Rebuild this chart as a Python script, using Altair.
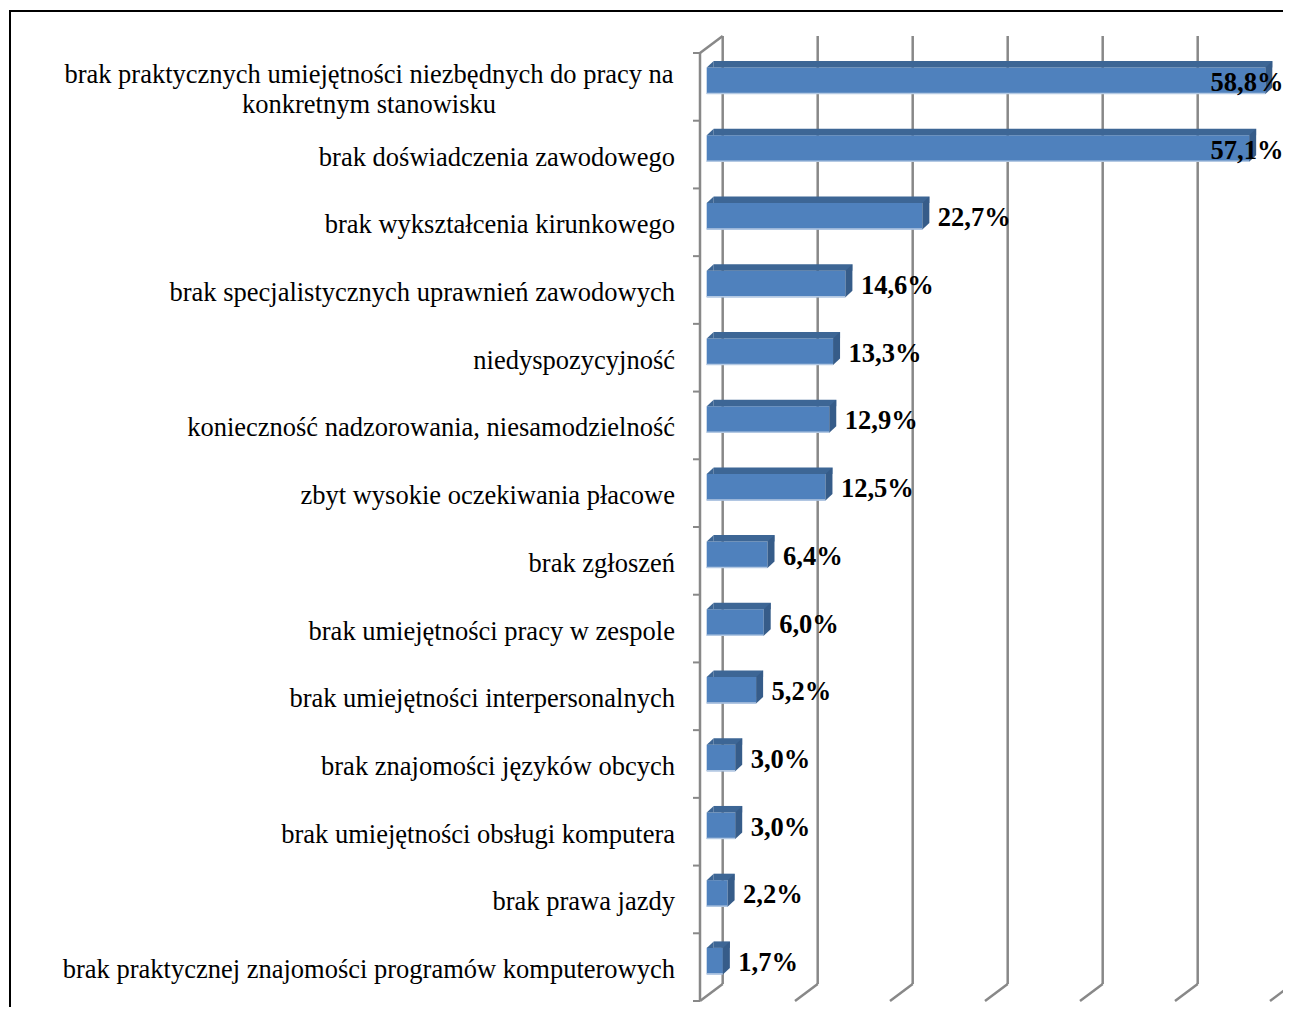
import altair as alt
import pandas as pd

# ---------------- data ----------------
categories = [
    "brak praktycznych umiejętności niezbędnych do pracy na\nkonkretnym stanowisku",
    "brak doświadczenia zawodowego",
    "brak wykształcenia kirunkowego",
    "brak specjalistycznych uprawnień zawodowych",
    "niedyspozycyjność",
    "konieczność nadzorowania, niesamodzielność",
    "zbyt wysokie oczekiwania płacowe",
    "brak zgłoszeń",
    "brak umiejętności pracy w zespole",
    "brak umiejętności interpersonalnych",
    "brak znajomości języków obcych",
    "brak umiejętności obsługi komputera",
    "brak prawa jazdy",
    "brak praktycznej znajomości programów komputerowych",
]
values = [58.8, 57.1, 22.7, 14.6, 13.3, 12.9, 12.5, 6.4, 6.0, 5.2, 3.0, 3.0, 2.2, 1.7]
grid_values = [0, 10, 20, 30, 40, 50, 60]
x_max = 60

# ---------------- style / geometry (pixels) ----------------
FONT = "Liberation Serif"
FS = 26.5
FRONT = "#4F81BD"
TOP = "#3D6695"
SIDE = "#365C89"
HILITE = "#B4C9E3"
GRID = "#888888"
W, H = 570, 948
WALL_DX, WALL_DY = 22.7, 17      # 3-D depth of the back wall
BAR_DX, BAR_DY = 6.7, -6         # bar front-face shift inside the depth
BAR_H = 26.5
DEP_X, DEP_Y = 7, 6.5            # bar depth
LABEL_MAX = 51.4                 # keep value labels inside the plot

n = len(categories)
df = pd.DataFrame({
    "cat": categories,
    "v": values,
    "row": [i + 0.5 for i in range(n)],
    "zero": [0] * n,
    "lbl": [f"{v:.1f}".replace(".", ",") + "%" for v in values],
})
df["lx"] = df["v"].clip(upper=LABEL_MAX)
df["multi"] = df["cat"].str.contains("\n")

gdf = pd.DataFrame({"g": grid_values, "top": 0, "bottom": n})
tdf = pd.DataFrame({"b": list(range(n + 1))})

xs = alt.Scale(domain=[0, x_max], nice=False, zero=True)
ys = alt.Scale(domain=[0, n], reverse=True, nice=False, zero=False)


def X(f):
    return alt.X(f, scale=xs, axis=None)


def Y(f):
    return alt.Y(f, scale=ys, axis=None)


# back-wall gridlines
grid = alt.Chart(gdf).mark_rule(
    color=GRID, strokeWidth=2.5, xOffset=WALL_DX, yOffset=-WALL_DY, y2Offset=-WALL_DY
).encode(x=X("g:Q"), y=Y("top:Q"), y2="bottom:Q")

# floor diagonals
floor = alt.Chart(gdf).mark_rule(
    color=GRID, strokeWidth=2.5, x2Offset=WALL_DX, y2Offset=-WALL_DY
).encode(x=X("g:Q"), x2="g:Q", y=Y("bottom:Q"), y2="bottom:Q")

# side wall: top diagonal and front axis line
wall_top = alt.Chart(gdf[gdf.g == 0]).mark_rule(
    color=GRID, strokeWidth=2.5, x2Offset=WALL_DX, y2Offset=-WALL_DY
).encode(x=X("g:Q"), x2="g:Q", y=Y("top:Q"), y2="top:Q")

front_axis = alt.Chart(gdf[gdf.g == 0]).mark_rule(
    color=GRID, strokeWidth=2.5
).encode(x=X("g:Q"), y=Y("top:Q"), y2="bottom:Q")

ticks = alt.Chart(tdf).mark_rule(color=GRID, strokeWidth=2).encode(
    x=alt.value(-7), x2=alt.value(0), y=Y("b:Q")
)

# bars: front face
front = alt.Chart(df).mark_rect(
    color=FRONT,
    xOffset=BAR_DX, x2Offset=BAR_DX,
    yOffset=BAR_DY - BAR_H / 2, y2Offset=BAR_DY + BAR_H / 2,
).encode(x=X("zero:Q"), x2="v:Q", y=Y("row:Q"), y2="row:Q")

hilite = alt.Chart(df).mark_rule(
    color=HILITE, strokeWidth=1.5,
    xOffset=BAR_DX, x2Offset=BAR_DX,
    yOffset=BAR_DY + BAR_H / 2 - 0.5, y2Offset=BAR_DY + BAR_H / 2 - 0.5,
).encode(x=X("zero:Q"), x2="v:Q", y=Y("row:Q"), y2="row:Q")

# top face
top_rect = alt.Chart(df).mark_rect(
    color=TOP,
    xOffset=BAR_DX + DEP_X, x2Offset=BAR_DX + DEP_X,
    yOffset=BAR_DY - BAR_H / 2 - DEP_Y, y2Offset=BAR_DY - BAR_H / 2,
).encode(x=X("zero:Q"), x2="v:Q", y=Y("row:Q"), y2="row:Q")

left_tri = f"M0,0 L{DEP_X},0 L{DEP_X},{-DEP_Y} Z"
top_left = alt.Chart(df).mark_point(
    shape=left_tri, size=4, filled=True, opacity=1, strokeWidth=0, color=TOP,
    xOffset=BAR_DX, yOffset=BAR_DY - BAR_H / 2,
).encode(x=X("zero:Q"), y=Y("row:Q"))

side_path = f"M0,0 L{DEP_X},{-DEP_Y} L{DEP_X},{BAR_H - DEP_Y} L0,{BAR_H} Z"
side = alt.Chart(df).mark_point(
    shape=side_path, size=4, filled=True, opacity=1, strokeWidth=0, color=SIDE,
    xOffset=BAR_DX, yOffset=BAR_DY - BAR_H / 2,
).encode(x=X("v:Q"), y=Y("row:Q"))

# value labels
vlabels = alt.Chart(df).mark_text(
    font=FONT, fontSize=FS, fontWeight="bold", color="black",
    align="left", baseline="middle", dx=BAR_DX + 15.5, dy=BAR_DY + 2,
).encode(x=X("lx:Q"), y=Y("row:Q"), text="lbl:N")

# category labels
cat_single = alt.Chart(df[~df.multi]).mark_text(
    font=FONT, fontSize=FS, color="black", align="right", baseline="middle", dy=3
).encode(x=alt.value(-25), y=Y("row:Q"), text="cat:N")

cat_multi = alt.Chart(df[df.multi]).mark_text(
    font=FONT, fontSize=FS, color="black", align="center", baseline="middle",
    lineBreak="\n", lineHeight=30, dy=-12,
).encode(x=alt.value(-331), y=Y("row:Q"), text="cat:N")

# page frame
frame_left = alt.Chart(gdf[gdf.g == 0]).mark_rule(color="black", strokeWidth=2).encode(
    x=alt.value(-690), y=alt.value(-42), y2=alt.value(H + 20)
)
frame_top = alt.Chart(gdf[gdf.g == 0]).mark_rule(color="black", strokeWidth=2).encode(
    x=alt.value(-691), x2=alt.value(W + 40), y=alt.value(-42)
)

chart = alt.layer(
    grid, floor, wall_top, front_axis, ticks,
    front, hilite, top_rect, top_left, side,
    vlabels, cat_single, cat_multi, frame_left, frame_top,
).properties(
    width=W, height=H,
    background="white",
    autosize=alt.AutoSizeParams(type="none"),
    padding={"left": 692, "top": 45, "right": 13, "bottom": 6},
).configure_view(stroke=None)

chart.save("out.html", embed_options={"renderer": "svg", "actions": False})
